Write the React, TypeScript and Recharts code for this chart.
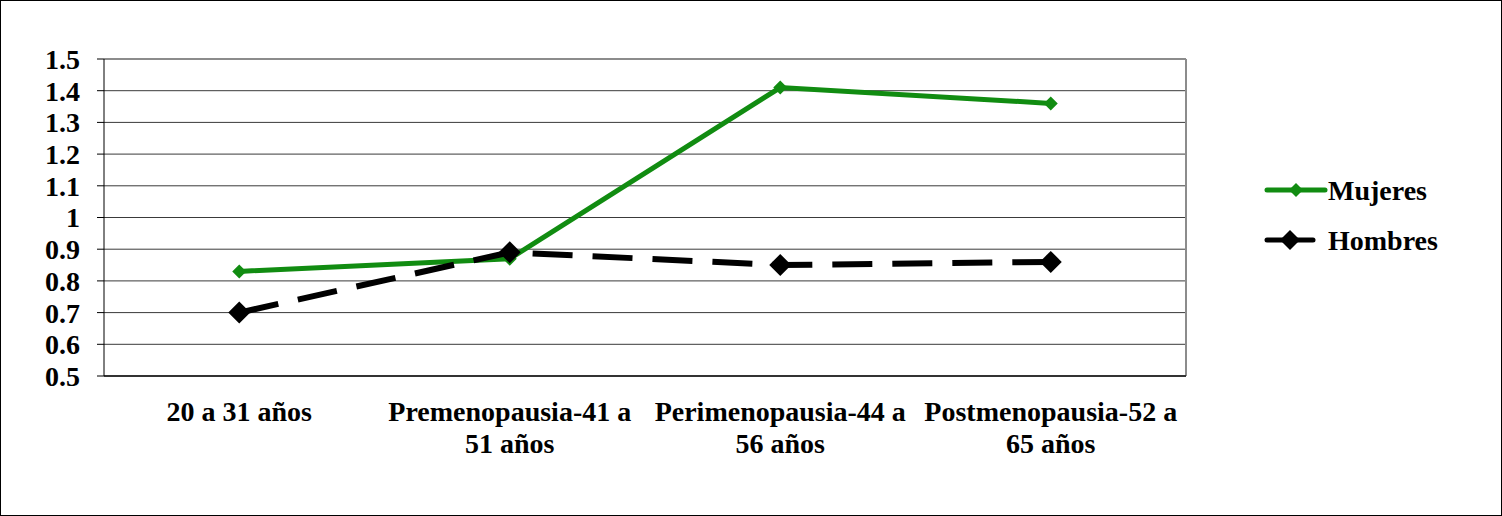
import React from 'react';
import { LineChart, Line, XAxis, YAxis, CartesianGrid, Legend, ReferenceLine } from 'recharts';

const categories = [
  ['20 a 31 años'],
  ['Premenopausia-41 a', '51 años'],
  ['Perimenopausia-44 a', '56 años'],
  ['Postmenopausia-52 a', '65 años'],
];
const mujeres = [0.83, 0.87, 1.41, 1.36];
const hombres = [0.7, 0.89, 0.85, 0.86];
const yTicks = [0.5, 0.6, 0.7, 0.8, 0.9, 1, 1.1, 1.2, 1.3, 1.4, 1.5];

const data = categories.map((c, i) => ({
  pos: i + 0.5,
  name: c.join(' '),
  mujeres: mujeres[i],
  hombres: hombres[i],
}));

const FONT = '"Liberation Serif", "Times New Roman", serif';
const GREEN = '#118c11';

const Diamond = (size: number, color: string) => (props: any) => {
  const { cx, cy, index } = props;
  if (cx == null || cy == null) return <g key={index} />;
  return (
    <polygon
      key={index}
      points={`${cx},${cy - size} ${cx + size},${cy} ${cx},${cy + size} ${cx - size},${cy}`}
      fill={color}
    />
  );
};

const CategoryTick = (props: any) => {
  const { x, y, payload } = props;
  const lines = categories[Math.floor(payload.value)] || [];
  return (
    <text x={x} y={y} textAnchor="middle" fontFamily={FONT} fontWeight="bold" fontSize={28} fill="#000">
      {lines.map((l, i) => (
        <tspan key={i} x={x} dy={i === 0 ? 37 : 32}>
          {l}
        </tspan>
      ))}
    </text>
  );
};

const legendItems = [
  { label: 'Mujeres', color: GREEN, len: 58, size: 7 },
  { label: 'Hombres', color: '#000', len: 46, size: 10 },
];

const LegendContent = () => (
  <svg width={240} height={110}>
    {legendItems.map((it, i) => {
      const cy = 20 + i * 50;
      const x0 = 27;
      const cx = x0 + it.len / 2;
      return (
        <g key={it.label}>
          <line x1={x0} y1={cy} x2={x0 + it.len} y2={cy} stroke={it.color} strokeWidth={5} strokeLinecap="round" />
          <polygon
            points={`${cx},${cy - it.size} ${cx + it.size},${cy} ${cx},${cy + it.size} ${cx - it.size},${cy}`}
            fill={it.color}
          />
          <text x={88} y={cy + 10} fontFamily={FONT} fontWeight="bold" fontSize={28} fill="#000">
            {it.label}
          </text>
        </g>
      );
    })}
  </svg>
);

export default function App() {
  return (
    <div style={{ position: 'absolute', left: 0, top: 0, width: 1502, height: 516, background: '#fff' }}>
      <LineChart width={1502} height={516} data={data} margin={{ top: 59, right: 76, left: 0, bottom: 0 }}>
        <CartesianGrid vertical={false} stroke="#3a3a3a" strokeWidth={1} />
        <XAxis
          xAxisId="base"
          type="number"
          dataKey="pos"
          domain={[0, 4]}
          ticks={[0, 1, 2, 3, 4]}
          tick={false}
          tickSize={8}
          height={8}
          axisLine={{ stroke: '#333', strokeWidth: 2 }}
          tickLine={{ stroke: '#000', strokeWidth: 1 }}
        />
        <XAxis
          xAxisId="lbl"
          type="number"
          dataKey="pos"
          domain={[0, 4]}
          ticks={[0.5, 1.5, 2.5, 3.5]}
          tickLine={false}
          axisLine={false}
          tickSize={0}
          tickMargin={0}
          height={132}
          tick={<CategoryTick />}
        />
        <YAxis
          type="number"
          domain={[0.5, 1.5]}
          ticks={yTicks}
          interval={0}
          width={104}
          tickSize={7}
          tickMargin={17}
          axisLine={{ stroke: '#000', strokeWidth: 1 }}
          tickLine={{ stroke: '#000', strokeWidth: 1 }}
          tickFormatter={(v: number) => (v === 1 ? '1' : v.toFixed(1))}
          tick={{ fontFamily: FONT, fontWeight: 'bold', fontSize: 28, fill: '#000' }}
        />
        <ReferenceLine y={1.5} xAxisId="base" stroke="#8c8c8c" strokeWidth={2} />
        <ReferenceLine x={4} xAxisId="base" stroke="#8c8c8c" strokeWidth={2} />
        <Legend
          layout="vertical"
          align="right"
          verticalAlign="top"
          content={<LegendContent />}
          wrapperStyle={{ position: 'absolute', left: 1240, top: 170, width: 240, height: 110 }}
        />
        <Line
          xAxisId="base"
          type="linear"
          dataKey="mujeres"
          name="Mujeres"
          stroke={GREEN}
          strokeWidth={5}
          dot={Diamond(7, GREEN)}
          activeDot={false}
          isAnimationActive={false}
        />
        <Line
          xAxisId="base"
          type="linear"
          dataKey="hombres"
          name="Hombres"
          stroke="#000"
          strokeWidth={6}
          strokeDasharray="40 20"
          dot={Diamond(11, '#000')}
          activeDot={false}
          isAnimationActive={false}
        />
      </LineChart>
      <div
        style={{
          position: 'absolute',
          left: 0,
          top: 0,
          width: 1502,
          height: 516,
          boxSizing: 'border-box',
          border: '1px solid #000',
          pointerEvents: 'none',
        }}
      />
    </div>
  );
}
